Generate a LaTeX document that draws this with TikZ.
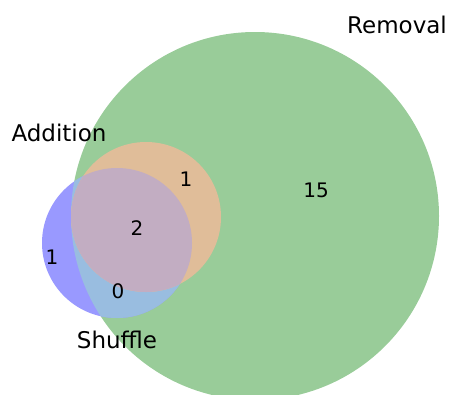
\documentclass[tikz,border=0pt]{standalone}
\usepackage{fontspec}
\setmainfont{DejaVu Sans}
\definecolor{remonly}{HTML}{99CC99}
\definecolor{shufonly}{HTML}{9999FF}
\definecolor{shufrem}{HTML}{99BDE0}
\definecolor{addrem}{HTML}{E0BD99}
\definecolor{allthree}{HTML}{C2ADC2}
\begin{document}
\begin{tikzpicture}[x=1pt, y=-1pt, setlabel/.style = {font=\fontsize{23}{27}\selectfont}, count/.style = {font=\fontsize{20}{24}\selectfont, inner sep=0pt}]
\useasboundingbox (0,0) rectangle (449,394);
\clip (0,0) rectangle (449,394);

% circles of the three sets
\def\remcirc{(255,216) circle[radius=184]}
\def\addcirc{(146,217) circle[radius=75]}
\def\shufcirc{(117,243) circle[radius=75]}

\fill[remonly] \remcirc;
\fill[shufonly] \shufcirc;
\begin{scope}
\clip \remcirc;
\fill[shufrem] \shufcirc;
\end{scope}
\fill[addrem] \addcirc;
\begin{scope}
\clip \addcirc;
\fill[allthree] \shufcirc;
\end{scope}

% set names
\node[setlabel] (removal) at (397,25) {Removal};
\node[setlabel] (addition) at (59,133) {Addition};
\node[setlabel] (shuffle) at (117,340) {Shuffle};

% region counts
\node[count] (n15) at (316,190) {15};
\node[count] (nar) at (186,179) {1};
\node[count] (nall) at (137,228) {2};
\node[count] (ns) at (52,257) {1};
\node[count] (nsr) at (118,291) {0};

\end{tikzpicture}
\end{document}
